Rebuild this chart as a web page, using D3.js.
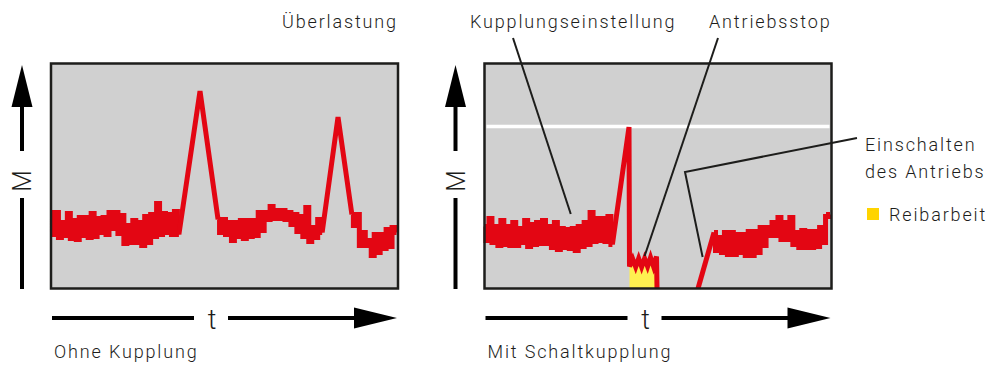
<!DOCTYPE html>
<html>
<head>
<meta charset="utf-8">
<title>Kupplung</title>
<script src="https://cdn.jsdelivr.net/npm/d3@7"></script>
<style>
  body { margin: 0; background: #fff; }
  text { font-family: Roboto, "DejaVu Sans", sans-serif; fill: #1d1d1b; font-weight: 300; }
  .lbl { font-size: 18px; letter-spacing: 1.85px; }
  .frame { fill: #d0d0d0; }
  .border { fill: none; stroke: #1d1d1b; stroke-width: 2.5; }
  .trace { fill: none; stroke: #e30613; stroke-width: 5; }
  .lead { fill: none; stroke: #1d1d1b; stroke-width: 2; }
  .axis { fill: none; stroke: #000; stroke-width: 4; }
</style>
</head>
<body>
<svg id="chart" width="992" height="365"></svg>
<script>
// t and M in arbitrary units, noise runs sampled every 0.6 t
var tDomain = [0, 70], mDomain = [0, 112.5];
var sampleStep = 0.6;

// Ohne Kupplung
var leftStarts = [0, 33.7, 60.7];
var leftRunA = [38,27,38,25.5,33,26.5,37.5,25,34,24.5,35.5,26.5,35.5,25.5,37.5,26,35,28,35.5,27,38,30,38,27.5,
  36.5,22.5,31.5,23,34,23,33,21.5,36,23,37,26,42.5,27,37.5,28,37,27,38.5,27];
var leftRunB = [34.5,28,34.5,27,33,24,33,26,34,25,34,26,34,26.5,38,29,38,34.5,41,35,39,35,39,34.5,38,32,
  37,28.5,36,26,40.5,23.5,30.5,25.5,34.5,28];
var leftRunC = [37,31.5,37,21.5,28,21.5,24,16.5,27,18,27,20,29.5,21,30.5,28];
var leftPeaks = [[30.06, 98.75], [57.9, 85.75]];

// Mit Schaltkupplung
var rightStarts = [0, 46.3];
var rightRunA = [31,24,35,23,31,21.5,34,22,31,21.5,33,21.5,30,23,34,21,32,22,33,22.5,34,22.5,31,20.5,33,19.5,30,20.5,
  29.5,20,30,19,31,21,33,22,38,23.5,35,24,35,23.5,36,22];
var rightPeak = [29.15, 80.75];
var rightSlip = [[29.25,11],[29.9,14.75],[30.5,10.75],[31.1,15],[31.7,10.75],[32.3,15],[32.9,11],[33.5,15.5],
  [34.1,11],[34.7,16]];
var rightStop = [34.8, 0];
var rightRestart = [43.07, 0];
var rightRunB = [28,19,25.5,18,28,17,28,17,27,18,27,16.5,28.5,16.5,28.5,18,30.5,21.5,30.5,26.5,33,26.5,35.5,
  24.5,33,24.5,35.5,22,28,20.5,29,20.5,28.5,20.5,28.5,21,30.5,23,36,37];
var setLevel = 81;

var panelTitles = ["Ohne Kupplung", "Mit Schaltkupplung"];
var topLabels = ["Überlastung", "Kupplungseinstellung", "Antriebsstop"];
var sideLabels = ["Einschalten", "des Antriebs"];
var legendLabel = "Reibarbeit";

var svg = d3.select("#chart");
var W = 347, H = 225, top0 = 63.5;
var panels = [51, 484.5];

function run(t0, vals) {
  return vals.map(function(m, i) { return [t0 + i * sampleStep, m]; });
}

function makePanel(x0, title) {
  var x = d3.scaleLinear().domain(tDomain).range([x0, x0 + W]);
  var y = d3.scaleLinear().domain(mDomain).range([top0 + H, top0]);
  var g = svg.append("g");

  g.append("rect").attr("class", "frame")
    .attr("x", x0).attr("y", top0).attr("width", W).attr("height", H);

  // M axis arrow
  var ax = x0 - 29;
  g.append("path").attr("d", "M" + ax + ",65 L" + (ax - 10.5) + ",107 L" + (ax + 10.5) + ",107 Z").attr("fill", "#000");
  g.append("line").attr("class", "axis").attr("x1", ax).attr("x2", ax).attr("y1", 105).attr("y2", 151);
  g.append("line").attr("class", "axis").attr("x1", ax).attr("x2", ax).attr("y1", 198).attr("y2", 289);
  g.append("text").attr("transform", "translate(" + (ax + 9) + ",181) rotate(-90)")
    .attr("text-anchor", "middle").style("font-size", "25px").text("M");

  // t axis arrow
  var ty = 318;
  g.append("line").attr("class", "axis").attr("x1", x0 + 1).attr("x2", x0 + 143).attr("y1", ty).attr("y2", ty);
  g.append("line").attr("class", "axis").attr("x1", x0 + 177).attr("x2", x0 + 305).attr("y1", ty).attr("y2", ty);
  g.append("path").attr("d", "M" + (x0 + 303) + "," + (ty - 10.5) + " L" + (x0 + 346) + "," + ty + " L" + (x0 + 303) + "," + (ty + 10.5) + " Z").attr("fill", "#000");
  g.append("text").attr("x", x0 + 161).attr("y", ty + 11).attr("text-anchor", "middle")
    .style("font-size", "27px").text("t");

  g.append("text").attr("class", "lbl").attr("x", x0 + 3).attr("y", 358).text(title);
  return {g: g, x: x, y: y};
}

var L = makePanel(panels[0], panelTitles[0]);
var R = makePanel(panels[1], panelTitles[1]);

function lineFor(p, curve) {
  return d3.line().curve(curve || d3.curveLinear)
    .x(function(d) { return p.x(d[0]); }).y(function(d) { return p.y(d[1]); });
}

// left trace
var lA = run(leftStarts[0], leftRunA), lB = run(leftStarts[1], leftRunB), lC = run(leftStarts[2], leftRunC);
[lA, lB, lC].forEach(function(r) {
  L.g.append("path").datum(r).attr("class", "trace").attr("d", lineFor(L, d3.curveStep));
});
L.g.append("path").datum([lA[lA.length - 1], leftPeaks[0], lB[0]]).attr("class", "trace").attr("d", lineFor(L));
L.g.append("path").datum([lB[lB.length - 1], leftPeaks[1], lC[0]]).attr("class", "trace").attr("d", lineFor(L));

// coupling setting
R.g.append("line").attr("x1", R.x(0) + 2).attr("x2", R.x(70) - 2)
  .attr("y1", R.y(setLevel)).attr("y2", R.y(setLevel))
  .attr("stroke", "#fff").attr("stroke-width", 3.5);

// friction work during slip
R.g.append("path").datum(rightSlip)
  .attr("fill", "#fff050")
  .attr("d", d3.area().x(function(d) { return R.x(d[0]); }).y0(R.y(0)).y1(function(d) { return R.y(d[1]); }));

var rA = run(rightStarts[0], rightRunA), rB = run(rightStarts[1], rightRunB);
R.g.append("path").datum(rA).attr("class", "trace").attr("d", lineFor(R, d3.curveStep));
R.g.append("path").datum([rA[rA.length - 1], rightPeak].concat(rightSlip, [rightStop]))
  .attr("class", "trace").attr("d", lineFor(R));
R.g.append("path").datum([rightRestart, rB[0]]).attr("class", "trace").attr("d", lineFor(R));
R.g.append("path").datum(rB).attr("class", "trace").attr("d", lineFor(R, d3.curveStep));

// frames on top
panels.forEach(function(x0) {
  svg.append("rect").attr("class", "border").attr("x", x0).attr("y", top0).attr("width", W).attr("height", H);
});

// labels
svg.append("text").attr("class", "lbl").attr("x", 282).attr("y", 28).text(topLabels[0]);
svg.append("text").attr("class", "lbl").attr("x", 470).attr("y", 28).text(topLabels[1]);
svg.append("text").attr("class", "lbl").attr("x", 709).attr("y", 28).text(topLabels[2]);
svg.append("text").attr("class", "lbl").attr("x", 865).attr("y", 151).text(sideLabels[0]);
svg.append("text").attr("class", "lbl").attr("x", 865).attr("y", 178).text(sideLabels[1]);
svg.append("rect").attr("x", 867).attr("y", 208).attr("width", 12).attr("height", 12).attr("fill", "#ffd400");
svg.append("text").attr("class", "lbl").attr("x", 889).attr("y", 221).text(legendLabel);

// leader lines
svg.append("line").attr("class", "lead").attr("x1", 513).attr("y1", 38).attr("x2", R.x(17.4)).attr("y2", 214);
svg.append("line").attr("class", "lead").attr("x1", 718).attr("y1", 38).attr("x2", R.x(32.3)).attr("y2", 256);
svg.append("polyline").attr("class", "lead")
  .attr("points", [[857, 138], [685, 172], [R.x(44), 257]].map(function(p) { return p.join(","); }).join(" "));
</script>
</body>
</html>
